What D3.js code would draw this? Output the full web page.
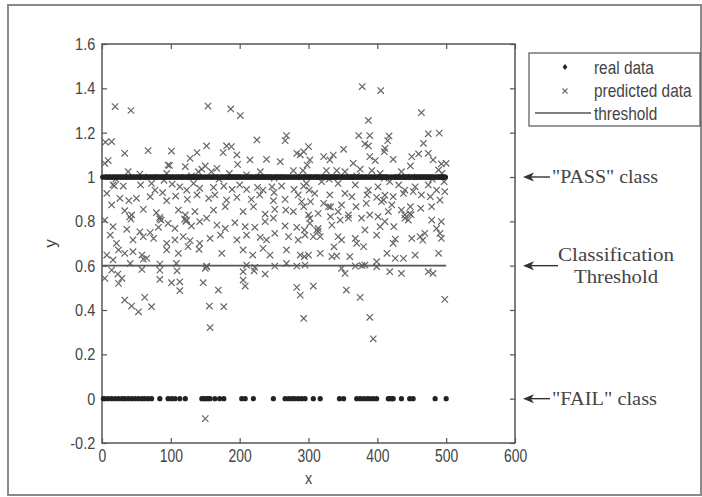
<!DOCTYPE html>
<html>
<head>
<meta charset="utf-8">
<script src="https://cdn.jsdelivr.net/npm/d3@7"></script>
<style>
  body { margin: 0; background: #fff; }
  svg { display: block; }
</style>
</head>
<body>
<div id="chart"></div>
<script>
// indices where the real data is 0 ("FAIL"), all other x in 1..500 are 1 ("PASS")
const nSamples = 500;
const failIdx = [2, 4, 9, 14, 19, 24, 29, 33, 38, 43, 48, 53, 58, 62, 67, 72, 84, 96, 101, 106, 113, 121,
  145, 148, 151, 154, 157, 164, 171, 177, 203, 208, 220, 249, 266, 271, 276, 280, 285, 290, 295, 307, 317,
  345, 351, 370, 375, 380, 385, 389, 394, 399, 416, 418, 421, 423, 435, 447, 452, 484, 500];

// predicted values [x, y]
const predicted = [
  [14,1.16],[152,1.14],[181,1.14],[188,1.137],[225,1.167],[266,1.164],[283,1.107],[288,1.10],[293,1.114],[33,1.107],
  [67,1.119],[101,1.117],[128,1.084],[138,1.11],[176,1.11],[196,1.10],[215,1.077],[239,1.08],[197,1.057],[96,1.054],
  [150,1.05],[145,1.035],[167,1.039],[9,1.074],[4,1.062],[38,1.024],[55,1.013],[94,1.016],[121,1.047],[140,1.024],
  [159,1.024],[185,1.016],[230,1.024],[278,1.029],[292,1.029],[259,1.069],[298,1.054],
  [16,0.964],[31,0.959],[56,0.964],[72,0.971],[77,0.941],[88,0.929],[102,0.968],[113,0.956],[123,0.941],[133,0.971],
  [142,0.949],[162,0.953],[177,0.959],[189,0.944],[200,0.964],[210,0.944],[226,0.953],[234,0.941],[247,0.956],[261,0.959],
  [279,0.944],[293,0.959],[301,0.941],
  [7,0.926],[26,0.904],[39,0.893],[50,0.904],[70,0.911],[94,0.893],[107,0.914],[124,0.899],[138,0.919],[155,0.904],
  [164,0.919],[181,0.896],[196,0.908],[217,0.899],[229,0.919],[249,0.893],[266,0.899],[285,0.919],[290,0.889],
  [14,0.874],[33,0.848],[43,0.829],[60,0.854],[79,0.839],[84,0.818],[111,0.851],[121,0.829],[135,0.844],[152,0.814],
  [162,0.851],[179,0.866],[205,0.844],[220,0.866],[237,0.833],[251,0.854],[267,0.851],[278,0.844],[293,0.866],[300,0.829],
  [4,0.806],[16,0.776],[36,0.764],[55,0.753],[70,0.749],[82,0.773],[96,0.791],[106,0.768],[123,0.806],[130,0.779],
  [142,0.799],[167,0.783],[179,0.768],[193,0.794],[208,0.776],[222,0.773],[237,0.799],[249,0.814],[266,0.779],[283,0.773],
  [294,0.761],[302,0.791],
  [12,0.738],[21,0.701],[45,0.716],[60,0.731],[75,0.723],[94,0.701],[106,0.716],[118,0.731],[128,0.713],[142,0.701],
  [157,0.723],[172,0.738],[196,0.716],[210,0.738],[230,0.728],[239,0.716],[251,0.746],[271,0.731],[285,0.716],[295,0.738],
  [7,0.648],[24,0.671],[33,0.656],[45,0.663],[58,0.648],[65,0.633],[94,0.671],[111,0.656],[125,0.686],[141,0.674],
  [174,0.656],[205,0.671],[219,0.648],[234,0.678],[244,0.648],[268,0.671],[288,0.648],[294,0.641],
  [16,0.626],[41,0.61],[60,0.629],[84,0.607],[108,0.61],[152,0.595],[210,0.603],[222,0.592],[251,0.598],[268,0.61],
  [283,0.598],[295,0.603],
  [14,0.58],[58,0.583],[84,0.58],[109,0.577],[150,0.588],[205,0.573],[221,0.577],
  [382,1.149],[387,1.14],[411,1.129],[410,1.114],[467,1.152],[415,1.164],[300,1.137],[351,1.125],[336,1.099],[322,1.092],
  [331,1.077],[365,1.062],[389,1.092],[397,1.074],[423,1.08],[450,1.092],[460,1.104],[474,1.107],[481,1.077],[493,1.059],
  [500,1.062],[302,1.077],[448,1.05],
  [326,1.029],[341,1.029],[353,1.024],[375,1.035],[392,1.029],[404,1.016],[435,1.024],[489,1.032],[494,1.016],
  [297,0.971],[319,0.979],[343,0.971],[368,0.964],[387,0.941],[401,0.956],[418,0.979],[431,0.964],[440,0.941],[455,0.956],
  [474,0.964],[486,0.941],[498,0.934],[497,0.979],
  [309,0.926],[331,0.919],[353,0.926],[363,0.911],[385,0.919],[399,0.908],[409,0.896],[423,0.911],[438,0.926],[452,0.934],
  [464,0.919],[477,0.911],[491,0.896],
  [303,0.889],[322,0.881],[329,0.866],[348,0.874],[369,0.866],[384,0.881],[406,0.889],[421,0.874],[435,0.851],[448,0.866],
  [463,0.859],[479,0.866],
  [314,0.836],[332,0.821],[343,0.844],[358,0.829],[377,0.814],[389,0.829],[401,0.821],[416,0.844],[440,0.829],[445,0.806],
  [479,0.806],[493,0.799],
  [302,0.813],[314,0.768],[334,0.783],[346,0.806],[358,0.814],[382,0.761],[404,0.776],[411,0.799],[424,0.776],[440,0.814],
  [486,0.768],[491,0.746],[493,0.723],
  [307,0.731],[317,0.731],[343,0.731],[348,0.716],[368,0.723],[370,0.701],[380,0.686],[399,0.738],[423,0.701],[450,0.723],
  [462,0.731],[469,0.746],
  [300,0.648],[317,0.656],[334,0.641],[341,0.644],[360,0.641],[399,0.618],[414,0.656],[426,0.633],[438,0.633],[455,0.648],
  [489,0.656],
  [348,0.588],[368,0.598],[382,0.603],[399,0.595],[418,0.573],[435,0.565],[474,0.573],[481,0.565],
  // darker overlapping clusters
  [40,0.82],[42,0.81],[84,0.81],[86,0.805],[120,0.81],[122,0.80],[152,0.598],[312,0.76],[314,0.755],[332,0.865],
  [337,0.685],[411,0.918],[426,0.72],[447,0.835],[449,0.83],[466,0.715],[98,1.052],[378,0.6],[18,0.96],[250,0.93],
  // high outliers
  [5,1.157],[19,1.318],[42,1.30],[154,1.32],[187,1.307],[201,1.277],[268,1.187],[373,1.187],[378,1.408],[405,1.39],
  [387,1.255],[389,1.187],[417,1.185],[464,1.29],[474,1.195],[490,1.198],
  // low outliers
  [4,0.543],[23,0.562],[24,0.52],[29,0.543],[33,0.445],[43,0.418],[53,0.392],[62,0.457],[72,0.415],[84,0.538],
  [101,0.523],[113,0.527],[113,0.487],[147,0.523],[156,0.418],[157,0.321],[169,0.49],[177,0.415],[205,0.535],[208,0.508],
  [237,0.562],[283,0.502],[288,0.467],[293,0.362],[307,0.508],[355,0.49],[353,0.565],[375,0.457],[389,0.367],[394,0.27],
  [498,0.448],[150,-0.09],
  // close to 1 (mostly hidden by the real data)
  [20,0.99],[60,1.0],[90,0.985],[130,1.005],[170,0.99],[210,1.01],[250,0.995],[290,1.0],[330,0.99],[370,1.005],
  [410,0.995],[450,1.0],[480,0.99]
];

const threshold = 0.6;
const xTicks = [0, 100, 200, 300, 400, 500, 600];
const yTicks = [-0.2, 0, 0.2, 0.4, 0.6, 0.8, 1, 1.2, 1.4, 1.6];
const legendLabels = ["real data", "predicted data", "threshold"];
const notes = [
  { y: 1, lines: ['"PASS" class'] },
  { y: 0.6, lines: ["Classification", "Threshold"] },
  { y: 0, lines: ['"FAIL" class'] }
];

const realData = d3.range(1, nSamples + 1).map(i => [i, failIdx.includes(i) ? 0 : 1]);

const W = 702, H = 497;
const svg = d3.select("#chart").append("svg").attr("width", W).attr("height", H);

// outer frame
svg.append("rect").attr("x", 8).attr("y", 5).attr("width", 693).attr("height", 490)
  .attr("fill", "#fff").attr("stroke", "#8a8a8a").attr("stroke-width", 2);

const x = d3.scaleLinear().domain([0, 600]).range([102, 515]);
const y = d3.scaleLinear().domain([-0.2, 1.6]).range([443, 44]);

const axisColor = "#555";
const sansFont = "'Liberation Sans', Arial, sans-serif";
const serifFont = "'Liberation Serif', 'Times New Roman', serif";

// axes, ticks inside like matlab
function styleAxis(g, labels) {
  g.select(".domain").remove();
  g.selectAll(".tick line").attr("stroke", axisColor).attr("stroke-width", 1.2);
  if (!labels) g.selectAll(".tick text").remove();
  else g.selectAll(".tick text").attr("fill", "#444").attr("font-size", 17).attr("font-family", sansFont);
}

const gx = svg.append("g").attr("transform", `translate(0,${y(-0.2)})`)
  .call(d3.axisBottom(x).tickValues(xTicks).tickSize(-5).tickPadding(6).tickFormat(d => String(d)));
styleAxis(gx, true);
gx.selectAll(".tick text").attr("transform", "scale(0.82,1.05)");

svg.append("g").attr("transform", `translate(0,${y(1.6)})`)
  .call(d3.axisTop(x).tickValues(xTicks).tickSize(-5)).call(g => styleAxis(g, false));

const gy = svg.append("g").attr("transform", `translate(${x(0)},0)`)
  .call(d3.axisLeft(y).tickValues(yTicks).tickSize(-5).tickPadding(8).tickFormat(d => String(d)));
styleAxis(gy, true);
gy.selectAll(".tick text").attr("transform", "scale(0.85,1)");

svg.append("g").attr("transform", `translate(${x(600)},0)`)
  .call(d3.axisRight(y).tickValues(yTicks).tickSize(-5)).call(g => styleAxis(g, false));

// plot box
svg.append("rect").attr("x", x(0)).attr("y", y(1.6))
  .attr("width", x(600) - x(0)).attr("height", y(-0.2) - y(1.6))
  .attr("fill", "none").attr("stroke", axisColor).attr("stroke-width", 1.5);

// axis labels
svg.append("text").attr("transform", `translate(${(x(0) + x(600)) / 2},484) scale(0.85,1)`)
  .attr("text-anchor", "middle").attr("font-size", 17).attr("font-family", sansFont).attr("fill", "#444").text("x");
svg.append("text").attr("transform", `translate(56,${(y(1.6) + y(-0.2)) / 2}) rotate(-90)`)
  .attr("text-anchor", "middle").attr("font-size", 17).attr("font-family", sansFont).attr("fill", "#444").text("y");

// predicted data: x markers
const xMark = (s) => `M${-s},${-s}L${s},${s}M${-s},${s}L${s},${-s}`;
svg.append("g").selectAll("path")
  .data(predicted)
  .join("path")
  .attr("transform", d => `translate(${x(d[0])},${y(d[1])})`)
  .attr("d", xMark(3.2))
  .attr("fill", "none")
  .attr("stroke", "#666")
  .attr("stroke-width", 1.2);

// real data
svg.append("g").selectAll("circle")
  .data(realData)
  .join("circle")
  .attr("cx", d => x(d[0]))
  .attr("cy", d => y(d[1]))
  .attr("r", 2.6)
  .attr("fill", "#222");

// threshold line
svg.append("line")
  .attr("x1", x(1)).attr("x2", x(nSamples))
  .attr("y1", y(threshold)).attr("y2", y(threshold))
  .attr("stroke", "#555").attr("stroke-width", 1.6);

// legend
const lg = svg.append("g");
lg.append("rect").attr("x", 529).attr("y", 53).attr("width", 171).attr("height", 73)
  .attr("fill", "#fff").attr("stroke", "#555").attr("stroke-width", 1.2);
lg.append("path").attr("transform", "translate(565,67)").attr("d", "M0,-3L2.4,0L0,3L-2.4,0Z").attr("fill", "#222");
lg.append("path").attr("transform", "translate(565,91)").attr("d", xMark(2.5))
  .attr("stroke", "#6e6e6e").attr("stroke-width", 1.1);
lg.append("line").attr("x1", 535).attr("x2", 591).attr("y1", 113).attr("y2", 113)
  .attr("stroke", "#555").attr("stroke-width", 1.4);
legendLabels.forEach((t, i) => {
  lg.append("text").attr("transform", `translate(594,${74 + i * 23}) scale(0.88,1)`)
    .attr("font-size", 17.5).attr("font-family", sansFont).attr("fill", "#444").text(t);
});

// annotations on the right
notes.forEach(n => {
  const yy = y(n.y);
  const lineEnd = n.lines.length > 1 ? 558 : 550;
  svg.append("line").attr("x1", 528).attr("x2", lineEnd).attr("y1", yy).attr("y2", yy)
    .attr("stroke", "#333").attr("stroke-width", 1.4);
  svg.append("path")
    .attr("d", `M523,${yy}L534,${yy - 4.5}L531,${yy}L534,${yy + 4.5}Z`)
    .attr("fill", "#333");
});
svg.append("text").attr("x", 552).attr("y", y(1) + 6).attr("font-size", 18).attr("font-family", serifFont)
  .attr("fill", "#444").attr("textLength", 106).attr("lengthAdjust", "spacingAndGlyphs").text('"PASS" class');
svg.append("text").attr("x", 558).attr("y", y(0.6) - 5).attr("font-size", 18).attr("font-family", serifFont)
  .attr("fill", "#444").attr("textLength", 116).attr("lengthAdjust", "spacingAndGlyphs").text("Classification");
svg.append("text").attr("x", 574).attr("y", y(0.6) + 17).attr("font-size", 18).attr("font-family", serifFont)
  .attr("fill", "#444").attr("textLength", 84).attr("lengthAdjust", "spacingAndGlyphs").text("Threshold");
svg.append("text").attr("x", 552).attr("y", y(0) + 6).attr("font-size", 18).attr("font-family", serifFont)
  .attr("fill", "#444").attr("textLength", 105).attr("lengthAdjust", "spacingAndGlyphs").text('"FAIL" class');
</script>
</body>
</html>
